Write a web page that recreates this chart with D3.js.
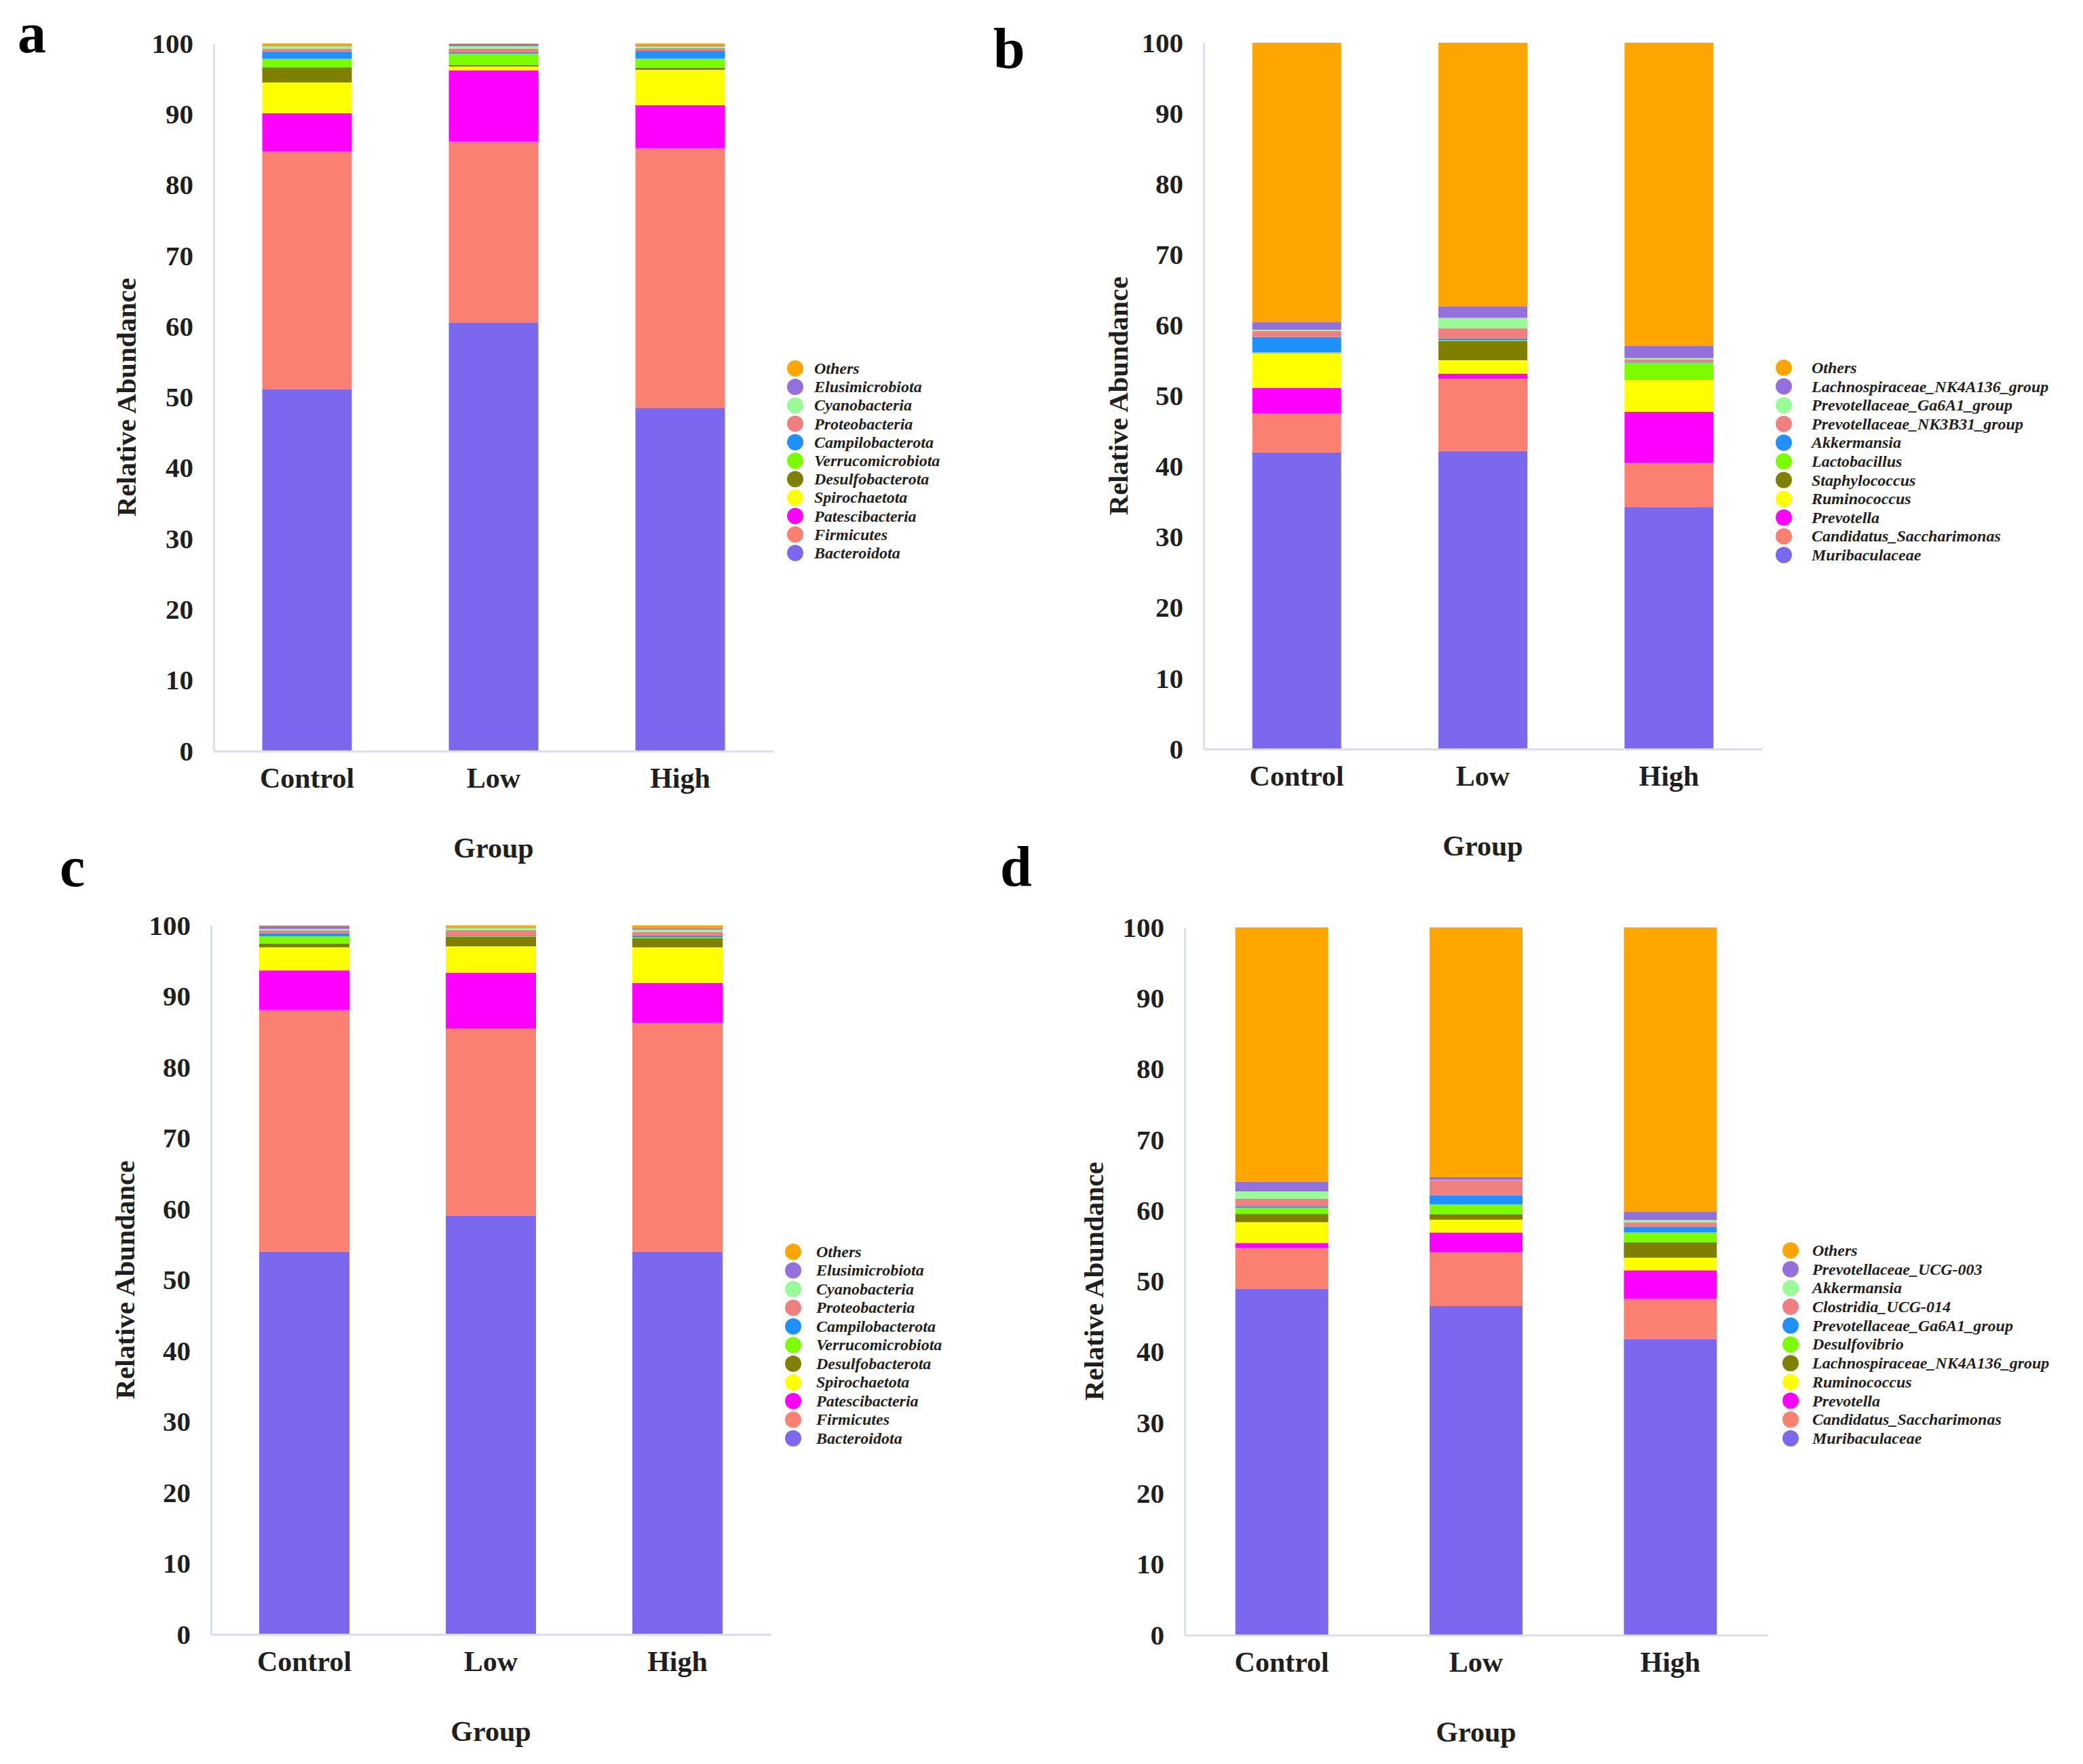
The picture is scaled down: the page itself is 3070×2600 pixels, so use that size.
<!DOCTYPE html>
<html>
<head>
<meta charset="utf-8">
<script src="https://cdn.jsdelivr.net/npm/d3@7"></script>
<style>
  html, body { margin: 0; padding: 0; background: #ffffff; }
  svg { display: block; }
</style>
</head>
<body>
<svg id="chart" width="3070" height="2600"></svg>
<script>
// ---------------- DATA ----------------
const groups = ["Control", "Low", "High"];
const yTicks = [0, 10, 20, 30, 40, 50, 60, 70, 80, 90, 100];

// Phylum level (panels a and c), bottom to top of each bar
const phylumTaxa = ["Bacteroidota", "Firmicutes", "Patescibacteria", "Spirochaetota", "Desulfobacterota",
  "Verrucomicrobiota", "Campilobacterota", "Proteobacteria", "Cyanobacteria", "Elusimicrobiota", "Others"];
// Genus level, panel b
const genusTaxaB = ["Muribaculaceae", "Candidatus_Saccharimonas", "Prevotella", "Ruminococcus", "Staphylococcus",
  "Lactobacillus", "Akkermansia", "Prevotellaceae_NK3B31_group", "Prevotellaceae_Ga6A1_group",
  "Lachnospiraceae_NK4A136_group", "Others"];
// Genus level, panel d
const genusTaxaD = ["Muribaculaceae", "Candidatus_Saccharimonas", "Prevotella", "Ruminococcus",
  "Lachnospiraceae_NK4A136_group", "Desulfovibrio", "Prevotellaceae_Ga6A1_group", "Clostridia_UCG-014",
  "Akkermansia", "Prevotellaceae_UCG-003", "Others"];

// Values per group (Control, Low, High), same order as taxa
const valuesA = [
  [51.1, 33.66, 5.37, 4.35, 2.15, 1.2, 1.0, 0.45, 0.35, 0.12, 0.25],
  [60.5, 25.62, 10.06, 0.55, 0.2, 1.64, 0.2, 0.5, 0.35, 0.33, 0.05],
  [48.5, 36.67, 6.1, 5.0, 0.3, 1.27, 1.1, 0.4, 0.25, 0.16, 0.25]
];
const valuesB = [
  [42.0, 5.5, 3.62, 4.92, 0.05, 0.1, 2.15, 0.86, 0.16, 1.12, 39.52],
  [42.2, 10.25, 0.7, 1.9, 2.75, 0.1, 0.25, 1.4, 1.5, 1.65, 37.3],
  [34.2, 6.3, 7.25, 4.5, 0.05, 2.4, 0.05, 0.4, 0.2, 1.77, 42.88]
];
const valuesC = [
  [54.0, 34.06, 5.6, 3.25, 0.55, 1.0, 0.45, 0.4, 0.2, 0.45, 0.04],
  [59.1, 26.36, 7.84, 3.75, 1.35, 0.05, 0.1, 0.8, 0.3, 0.1, 0.25],
  [54.0, 32.25, 5.65, 5.0, 1.3, 0.1, 0.25, 0.55, 0.3, 0.2, 0.4]
];
const valuesD = [
  [48.9, 5.8, 0.7, 2.95, 1.18, 0.85, 0.2, 1.1, 1.03, 1.37, 35.92],
  [46.5, 7.6, 2.8, 1.8, 0.8, 1.37, 1.3, 2.1, 0.04, 0.41, 35.28],
  [41.85, 5.65, 4.05, 1.78, 2.2, 1.37, 0.8, 0.65, 0.3, 1.17, 40.18]
];

// Colours, bottom to top (shared by all panels)
const palette = ["#7B68EE", "#FA8072", "#FF00FF", "#FFFF00", "#808000", "#7CFC00",
  "#1E90FF", "#F08080", "#98FB98", "#9370DB", "#FFA500"];

const panelLetters = ["a", "b", "c", "d"];
const xTitle = "Group";
const yTitle = "Relative Abundance";

// ---------------- LAYOUT ----------------
const panels = [
  { letter: "a", taxa: phylumTaxa, values: valuesA, x0: 315, x1: 1140, yTop: 64, yBot: 1107, barW: 132,
    letterPos: [26, 77], yTitleX: 186, legX: 1172, legTextX: 1200, legY0: 543, legStep: 27.2 },
  { letter: "b", taxa: genusTaxaB, values: valuesB, x0: 1774, x1: 2597, yTop: 63, yBot: 1104, barW: 131,
    letterPos: [1464, 100], yTitleX: 1648, legX: 2629, legTextX: 2670, legY0: 542, legStep: 27.6 },
  { letter: "c", taxa: phylumTaxa, values: valuesC, x0: 311, x1: 1136, yTop: 1364, yBot: 2409, barW: 133,
    letterPos: [88, 1306], yTitleX: 184, legX: 1169, legTextX: 1203, legY0: 1845, legStep: 27.5 },
  { letter: "d", taxa: genusTaxaD, values: valuesD, x0: 1746, x1: 2605, yTop: 1367, yBot: 2410, barW: 137,
    letterPos: [1474, 1306], yTitleX: 1612, legX: 2639, legTextX: 2671, legY0: 1843, legStep: 27.7 }
];

const FONT = "'Liberation Serif', 'Times New Roman', serif";
const TEXT_COLOR = "#1f1f1f";
const AXIS_COLOR = "#d8def3";

const svg = d3.select("#chart");
svg.append("rect").attr("width", 3070).attr("height", 2600).attr("fill", "#fff");

panels.forEach(p => {
  const g = svg.append("g");
  const step = (p.x1 - p.x0) / groups.length;
  const padIn = 1 - p.barW / step;
  const x = d3.scaleBand().domain(groups).range([p.x0, p.x1])
    .paddingInner(padIn).paddingOuter(padIn / 2);
  const y = d3.scaleLinear().domain([0, 100]).range([p.yBot, p.yTop]);
  const color = d3.scaleOrdinal().domain(p.taxa).range(palette);

  const rows = groups.map((grp, i) => {
    const r = { group: grp };
    p.taxa.forEach((t, j) => r[t] = p.values[i][j]);
    return r;
  });
  const series = d3.stack().keys(p.taxa)(rows);

  // bars
  g.append("g").selectAll("g")
    .data(series).join("g")
    .attr("fill", d => color(d.key))
    .selectAll("rect")
    .data(d => d).join("rect")
    .attr("x", d => x(d.data.group))
    .attr("width", x.bandwidth())
    .attr("y", d => y(d[1]))
    .attr("height", d => Math.max(0, y(d[0]) - y(d[1])));

  // y axis
  const yAx = g.append("g").attr("transform", `translate(${p.x0},0)`)
    .call(d3.axisLeft(y).tickValues(yTicks).tickSize(0).tickPadding(30).tickFormat(d3.format("d")));
  yAx.select(".domain").attr("stroke", AXIS_COLOR).attr("stroke-width", 3);
  yAx.selectAll("text").attr("font-family", FONT).attr("font-weight", "bold")
    .attr("font-size", 41).attr("fill", TEXT_COLOR);

  // x axis
  const xAx = g.append("g").attr("transform", `translate(0,${p.yBot})`)
    .call(d3.axisBottom(x).tickSize(0).tickSizeOuter(0).tickPadding(24));
  xAx.select(".domain").attr("stroke", AXIS_COLOR).attr("stroke-width", 3);
  xAx.selectAll("text").attr("font-family", FONT).attr("font-weight", "bold")
    .attr("font-size", 42).attr("fill", TEXT_COLOR);

  // axis titles
  g.append("text")
    .attr("x", (p.x0 + p.x1) / 2).attr("y", p.yBot + 157)
    .attr("text-anchor", "middle")
    .attr("font-family", FONT).attr("font-weight", "bold").attr("font-size", 42)
    .attr("fill", TEXT_COLOR)
    .text(xTitle);
  g.append("text")
    .attr("transform", `translate(${p.yTitleX},${(p.yTop + p.yBot) / 2}) rotate(-90)`)
    .attr("text-anchor", "middle").attr("dy", "0.35em")
    .attr("font-family", FONT).attr("font-weight", "bold").attr("font-size", 41)
    .attr("fill", TEXT_COLOR)
    .text(yTitle);

  // panel letter
  g.append("text")
    .attr("x", p.letterPos[0]).attr("y", p.letterPos[1])
    .attr("font-family", FONT).attr("font-weight", "bold").attr("font-size", 84)
    .attr("fill", "#000")
    .text(p.letter);

  // legend (top: Others ... bottom: first taxon)
  const legendKeys = p.taxa.slice().reverse();
  const leg = g.append("g");
  const items = leg.selectAll("g").data(legendKeys).join("g")
    .attr("transform", (d, i) => `translate(0,${p.legY0 + i * p.legStep})`);
  items.append("circle")
    .attr("cx", p.legX).attr("cy", 0).attr("r", 12)
    .attr("fill", d => color(d));
  items.append("text")
    .attr("x", p.legTextX).attr("y", 0).attr("dy", "0.33em")
    .attr("font-family", FONT).attr("font-weight", "bold").attr("font-style", "italic")
    .attr("font-size", 24).attr("fill", TEXT_COLOR)
    .text(d => d);
});
</script>
</body>
</html>
